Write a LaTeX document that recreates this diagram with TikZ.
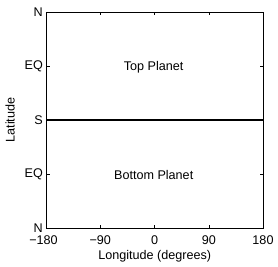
\documentclass[tikz,border=0pt]{standalone}
\usepackage{fontspec}
\setmainfont{Liberation Sans}
\usetikzlibrary{positioning}
\begin{document}
\begin{tikzpicture}[x=1pt, y=-1pt, every node/.style={font=\fontsize{12.6}{14}\selectfont, inner sep=1pt}]
  \useasboundingbox (0,0) rectangle (278,266);
  \coordinate (TL) at (46.5,12);
  \coordinate (TR) at (263,12);
  \coordinate (BR) at (263,228);
  \coordinate (BL) at (46.5,228);
  \coordinate (ML) at (46.5,120);
  \coordinate (MR) at (263,120);

  \draw[line width=0.7pt] (TL)--(TR)--(BR)--(BL)--cycle;
  \draw[line width=1.2pt] (ML)--(MR);
  \foreach \x in {100.6,154.7,208.9}
    \draw[line width=0.5pt] (\x,228)--(\x,225) (\x,12)--(\x,15);
  \foreach \y in {66,174}
    \draw[line width=0.5pt] (46.5,\y)--(49.5,\y) (263,\y)--(260,\y);

  \node[left]  (latN1) at (44,12)  {N};
  \node[left]  (latEQ1) at (44,66) {EQ};
  \node[left]  (latS) at (44,120)  {S};
  \node[left]  (latEQ2) at (44,174) {EQ};
  \node[left]  (latN2) at (44,228) {N};

  \node (lonA) at (43.5,240.5)  {−180};
  \node (lonB) at (100.3,240.5) {−90};
  \node (lonC) at (154.7,240.5) {0};
  \node (lonD) at (208.9,240.5) {90};
  \node (lonE) at (263,240.5)   {180};

  \node (xlabel) at (154.7,256) {Longitude (degrees)};
  \node[rotate=90] (ylabel) at (10,120) {Latitude};
  \node (top) at (153.7,67) {Top Planet};
  \node (bottom) at (153.7,175) {Bottom Planet};
\end{tikzpicture}
\end{document}
